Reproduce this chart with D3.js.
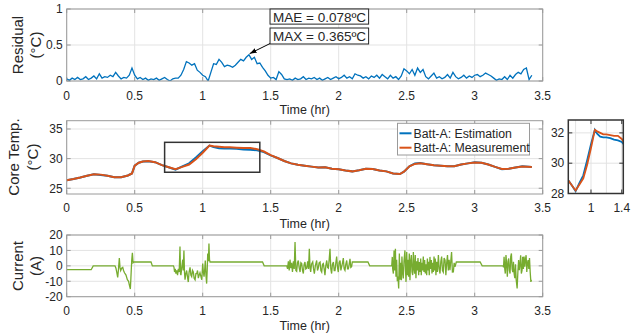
<!DOCTYPE html>
<html>
<head>
<meta charset="utf-8">
<script src="https://cdn.jsdelivr.net/npm/d3@7"></script>
<style>
  body { margin: 0; background: #fff; }
  text { font-family: "Liberation Sans", Arial, sans-serif; fill: #262626; }
</style>
</head>
<body>
<svg id="fig" width="631" height="333"></svg>
<script>
// ---- data ----
const resStep = 0.02; // residual sampled every 0.02 hr from t = 0
const residual = [
  0.03, 0.01, 0.04, 0.02, 0.05, 0.02, 0.03, 0.06, 0.02, 0.04, 0.07,
  0.03, 0.10, 0.04, 0.06, 0.05, 0.08, 0.06, 0.12, 0.07, 0.03,
  0.05, 0.04, 0.08, 0.18, 0.08, 0.03, 0.05, 0.02, 0.04, 0.01,
  0.03, 0.02, 0.04, 0.01, 0.03, 0.05, 0.02, 0.00, 0.03, 0.04,
  0.04, 0.08, 0.16, 0.27, 0.25, 0.22, 0.24, 0.15, 0.12, 0.08,
  0.06, 0.00, 0.12, 0.24, 0.23, 0.30, 0.26, 0.20, 0.22, 0.21,
  0.19, 0.22, 0.26, 0.30, 0.28, 0.33, 0.365, 0.30, 0.33, 0.24,
  0.25, 0.19, 0.14, 0.08, 0.04, 0.05, 0.02, 0.13, 0.09, 0.03,
  0.02, 0.03, 0.01, 0.04, 0.02, 0.03, 0.06, 0.02, 0.04, 0.03,
  0.05, 0.02, 0.04, 0.01, 0.03, 0.05, 0.02, 0.04, 0.06, 0.03,
  0.05, 0.08, 0.04, 0.06, 0.03, 0.10, 0.08, 0.07, 0.04, 0.06,
  0.03, 0.07, 0.05, 0.08, 0.04, 0.09, 0.06, 0.03, 0.08, 0.04,
  0.06, 0.02, 0.07, 0.17, 0.14, 0.10, 0.16, 0.08, 0.18, 0.12,
  0.16, 0.06, 0.03, 0.07, 0.11, 0.04, 0.06, 0.03, 0.05, 0.09,
  0.04, 0.12, 0.06, 0.03, 0.05, 0.08, 0.04, 0.07, 0.05, 0.08,
  0.09, 0.06, 0.08, 0.11, 0.09, 0.07, 0.04, 0.01, 0.03, 0.02,
  0.06, 0.02, 0.08, 0.04, 0.09, 0.12, 0.10, 0.16, 0.18, 0.02, 0.08
];

// [time (hr), measurement, estimation]
const tempPts = [
  [0, 26.35, 26.35], [0.05, 26.55, 26.55], [0.1, 26.8, 26.8], [0.15, 27.1, 27.1],
  [0.2, 27.35, 27.35], [0.25, 27.3, 27.25], [0.3, 27.1, 27.1], [0.35, 26.85, 26.85],
  [0.4, 26.85, 26.85], [0.45, 27.15, 27.15], [0.48, 27.5, 27.5], [0.5, 28.8, 28.8],
  [0.53, 29.3, 29.3], [0.56, 29.5, 29.5], [0.6, 29.6, 29.55], [0.65, 29.4, 29.4],
  [0.7, 28.9, 28.9], [0.75, 28.55, 28.55], [0.8, 28.2, 28.15], [0.85, 28.6, 28.7],
  [0.9, 29.0, 29.2], [0.95, 29.9, 30.2], [1.0, 31.0, 31.25], [1.05, 32.2, 32.2],
  [1.08, 32.1, 31.95], [1.12, 32.0, 31.75], [1.16, 31.9, 31.7], [1.2, 31.9, 31.7],
  [1.25, 31.85, 31.65], [1.3, 31.8, 31.55], [1.35, 31.8, 31.5], [1.4, 31.6, 31.4],
  [1.45, 31.2, 31.1], [1.5, 30.6, 30.55], [1.55, 30.1, 30.1], [1.6, 29.6, 29.6],
  [1.65, 29.2, 29.2], [1.7, 28.95, 28.95], [1.75, 28.8, 28.8], [1.8, 28.65, 28.65],
  [1.85, 28.5, 28.5], [1.9, 28.55, 28.55], [1.95, 28.3, 28.3], [2.0, 28.2, 28.2],
  [2.05, 28.0, 28.0], [2.1, 27.85, 27.85], [2.15, 28.05, 28.05], [2.2, 28.3, 28.3],
  [2.25, 28.25, 28.25], [2.3, 28.0, 28.0], [2.35, 27.85, 27.85], [2.4, 27.5, 27.5],
  [2.45, 27.4, 27.4], [2.48, 27.8, 27.8], [2.52, 28.7, 28.7], [2.56, 29.1, 29.2],
  [2.6, 29.2, 29.25], [2.65, 29.05, 29.05], [2.7, 28.9, 28.9], [2.75, 28.8, 28.8],
  [2.8, 28.7, 28.7], [2.85, 28.7, 28.7], [2.9, 29.0, 29.0], [2.95, 29.2, 29.2],
  [3.0, 29.35, 29.4], [3.05, 29.3, 29.3], [3.1, 29.0, 29.0], [3.15, 28.6, 28.6],
  [3.2, 28.25, 28.2], [3.25, 28.3, 28.3], [3.3, 28.5, 28.5], [3.35, 28.65, 28.7],
  [3.42, 28.6, 28.6]
];

// [time (hr), current (A)]
const currentPts = [
  [0, -2.5], [0.18, -2.5], [0.195, 0], [0.355, 0],
  [0.362, -1.5], [0.368, -4], [0.375, -7.5], [0.381, -2], [0.387, 5], [0.392, -1],
  [0.397, -3], [0.404, -1.5], [0.412, -1], [0.418, -3], [0.425, -4.5], [0.436, -6],
  [0.446, -9], [0.455, -10], [0.461, -12.5], [0.468, -15], [0.472, -8], [0.478, 3.5],
  [0.483, 8.5], [0.488, 2], [0.493, 2.5],
  [0.62, 2.5], [0.63, 0], [0.785, 0],
  [0.789, -1], [0.793, -4], [0.798, -2], [0.803, -5], [0.809, -3], [0.815, -6],
  [0.821, -2], [0.827, -4], [0.833, 12.5], [0.837, -5], [0.840, -6], [0.846, -1],
  [0.853, 4], [0.857, -3], [0.862, 10], [0.866, -4], [0.870, -9], [0.876, -5],
  [0.882, -3], [0.888, -7], [0.894, -10.5], [0.900, -4], [0.907, -1], [0.913, -6],
  [0.919, -7], [0.925, -3], [0.931, -4], [0.937, -8], [0.944, -9], [0.950, -5],
  [0.956, -5], [0.962, -3], [0.968, -8], [0.974, -6], [0.980, -4.5], [0.987, -7],
  [0.993, -9], [1.0, 1.5], [1.005, -4], [1.010, -7], [1.015, -2], [1.019, 3.5],
  [1.024, -6], [1.029, -11.5], [1.033, -3], [1.037, 8], [1.042, 3], [1.046, 14.5],
  [1.050, 4], [1.054, 2.5],
  [1.44, 2.5], [1.452, 0], [1.615, 0],
  [1.618, 0], [1.624, -2], [1.630, 3], [1.636, -3], [1.642, 4], [1.648, -1.5],
  [1.654, 2], [1.660, -4], [1.667, 3], [1.673, -2], [1.679, 15.5], [1.685, -3],
  [1.691, -3.5], [1.697, 2], [1.703, 3.5], [1.709, -1], [1.716, -4], [1.722, 2],
  [1.728, 1.5], [1.734, -3], [1.740, -5], [1.746, 1], [1.752, 2.5], [1.758, -2],
  [1.765, -1.5], [1.772, 3], [1.778, -2], [1.784, 11], [1.789, -1], [1.794, -4],
  [1.800, 1], [1.809, 2.5], [1.815, -2], [1.821, -5], [1.828, 0], [1.838, 3.5],
  [1.844, -3], [1.850, -1.5], [1.856, 2], [1.863, 2.5], [1.869, -3], [1.875, -4],
  [1.881, 1], [1.887, 1.5], [1.893, -2], [1.899, -6], [1.905, 0], [1.912, 3.5],
  [1.918, -1], [1.924, -1.5], [1.930, 4], [1.936, 11], [1.942, -2], [1.948, -5],
  [1.954, 1], [1.961, 2.5], [1.967, -3], [1.973, -3], [1.979, 2], [1.985, 6],
  [1.991, -1], [1.997, -4], [2.003, 2], [2.010, 3.5], [2.016, -3], [2.022, -0.5],
  [2.028, 2], [2.034, 5], [2.040, -2], [2.046, -3], [2.052, 1], [2.059, 3.5],
  [2.065, -2], [2.071, -2], [2.077, 1], [2.083, 4.5], [2.089, -1], [2.095, -0.5],
  [2.10, 2.5], [2.215, 2.5], [2.228, 0], [2.39, 0],
  [2.394, 5.8], [2.397, -2], [2.402, -5], [2.407, 10], [2.412, -3], [2.417, 11],
  [2.421, -7], [2.426, 4], [2.431, -10], [2.436, -7], [2.441, -14.7], [2.446, 8],
  [2.451, -9], [2.456, 2], [2.461, -9.3], [2.465, 6], [2.470, -4], [2.475, -8.2],
  [2.480, 3], [2.487, 10], [2.491, -2], [2.495, -10.4], [2.500, 9], [2.505, -6],
  [2.510, 4], [2.514, -7], [2.519, 8], [2.524, -9.3], [2.529, 3], [2.534, 7],
  [2.539, -4], [2.544, -6], [2.549, 9], [2.554, -2], [2.558, -5], [2.563, 7],
  [2.568, -8], [2.573, 3], [2.578, -3], [2.583, 5], [2.588, -6], [2.593, 2.5],
  [2.598, -4], [2.603, 4.8], [2.607, -6], [2.612, 2], [2.617, -3], [2.622, 6],
  [2.627, -4], [2.632, 3.7], [2.637, -5], [2.642, 1], [2.647, -6], [2.652, 4.8],
  [2.657, -3], [2.661, 2.6], [2.666, -6], [2.671, 5.8], [2.676, -2], [2.681, 3.7],
  [2.686, -5], [2.691, 2], [2.696, -4], [2.701, 6], [2.706, -3], [2.710, 4.8],
  [2.715, -6], [2.720, 2.6], [2.726, -4], [2.733, 7], [2.739, -2], [2.745, -5],
  [2.751, 3], [2.757, 6], [2.763, -3], [2.769, -4], [2.775, 5], [2.782, 3.7],
  [2.788, -6], [2.794, 2], [2.800, 7], [2.806, -3], [2.812, 4], [2.818, -2.8],
  [2.824, 3], [2.830, 9], [2.836, -4], [2.843, -3.9], [2.849, 2], [2.855, -0.6],
  [2.865, 2.5], [3.04, 2.5], [3.055, 0], [3.208, 0],
  [3.212, -1], [3.216, 5.8], [3.221, -2], [3.225, -5], [3.230, 7], [3.235, 1],
  [3.240, -7], [3.245, 3], [3.250, 4.8], [3.255, -3], [3.260, -5], [3.265, 6],
  [3.270, 8], [3.275, -2], [3.280, -4], [3.285, 2.6], [3.290, -5], [3.295, -8],
  [3.300, 1], [3.305, -9], [3.312, -14.7], [3.318, -3], [3.323, 3.7], [3.328, -2.8],
  [3.333, 1], [3.338, 6.9], [3.343, -5], [3.348, -3], [3.353, 5.8], [3.358, -2],
  [3.363, 6], [3.368, -0.6], [3.373, 4], [3.378, 6.9], [3.383, -3.9], [3.388, 2],
  [3.393, 3.7], [3.398, -2], [3.403, 5], [3.408, -4], [3.413, -10.4], [3.417, -9]
];

const timeTicks = [0, 0.5, 1, 1.5, 2, 2.5, 3, 3.5];
const resTicks = [0, 0.5, 1];
const tempTicks = [25, 30, 35];
const curTicks = [-20, -10, 0, 10, 20];
const insetXTicks = [1, 1.4];
const insetXGrid = [0.8, 1, 1.2, 1.4];
const insetYTicks = [28, 30, 32];
const zoomBox = { t0: 0.72, t1: 1.42, v0: 27.7, v1: 32.75 };
const seriesNames = ["Batt-A: Estimation", "Batt-A: Measurement"];
const colors = { est: "#0072BD", meas: "#D95319", cur: "#77AC30" };
const stats = ["MAE = 0.078ºC", "MAX = 0.365ºC"];
const peak = { t: 1.34, v: 0.365 };

// ---- layout ----
const svg = d3.select("#fig");
const left = 66.7, right = 542.7;
const x = d3.scaleLinear().domain([0, 3.5]).range([left, right]);

svg.append("defs").append("marker")
  .attr("id", "ah").attr("viewBox", "0 0 10 10")
  .attr("refX", 10).attr("refY", 5)
  .attr("markerWidth", 7).attr("markerHeight", 7)
  .attr("orient", "auto")
  .append("path").attr("d", "M0,1.5L10,5L0,8.5z").attr("fill", "#000");

let clipN = 0;
function drawAxes(xs, ys, xt, yt, opts) {
  const g = svg.append("g");
  const [x0, x1] = xs.range();
  const [y0, y1] = ys.range(); // y0 bottom, y1 top
  const grid = g.append("g").attr("stroke", "#e3e3e3").attr("stroke-width", 1);
  grid.selectAll(".gx").data(opts.xGrid || xt).join("line")
    .attr("x1", d => xs(d)).attr("x2", d => xs(d)).attr("y1", y0).attr("y2", y1);
  grid.selectAll(".gy").data(yt).join("line")
    .attr("y1", d => ys(d)).attr("y2", d => ys(d)).attr("x1", x0).attr("x2", x1);
  // ticks (inside, on all four sides)
  const tk = g.append("g").attr("stroke", opts.frame).attr("stroke-width", 1);
  xt.forEach(d => {
    tk.append("line").attr("x1", xs(d)).attr("x2", xs(d)).attr("y1", y0).attr("y2", y0 - 4);
    tk.append("line").attr("x1", xs(d)).attr("x2", xs(d)).attr("y1", y1).attr("y2", y1 + 4);
  });
  yt.forEach(d => {
    tk.append("line").attr("y1", ys(d)).attr("y2", ys(d)).attr("x1", x0).attr("x2", x0 + 4);
    tk.append("line").attr("y1", ys(d)).attr("y2", ys(d)).attr("x1", x1).attr("x2", x1 - 4);
  });
  g.selectAll(".xl").data(xt).join("text")
    .attr("x", d => xs(d)).attr("y", y0 + opts.xLabDy)
    .attr("text-anchor", "middle").attr("font-size", 12)
    .text(d => d);
  g.selectAll(".yl").data(yt).join("text")
    .attr("x", x0 - 4).attr("y", d => ys(d) + 4.3)
    .attr("text-anchor", "end").attr("font-size", 12)
    .text(d => d);
  const id = "clip" + (clipN++);
  svg.append("clipPath").attr("id", id).append("rect")
    .attr("x", x0).attr("y", y1).attr("width", x1 - x0).attr("height", y0 - y1);
  return { g, id, frame: () => svg.append("rect")
    .attr("x", x0).attr("y", y1).attr("width", x1 - x0).attr("height", y0 - y1)
    .attr("fill", "none").attr("stroke", opts.frame).attr("stroke-width", opts.frameW || 1) };
}

function yLabel(lines, xs, cy) {
  lines.forEach((s, i) => {
    svg.append("text")
      .attr("transform", `translate(${xs[i]},${cy}) rotate(-90)`)
      .attr("text-anchor", "middle").attr("font-size", 15)
      .text(s);
  });
}

function xLabel(y) {
  svg.append("text").attr("x", (left + right) / 2).attr("y", y)
    .attr("text-anchor", "middle").attr("font-size", 12.5).text("Time (hr)");
}

// ---- panel 1: residual ----
const yRes = d3.scaleLinear().domain([0, 1]).range([81, 9]);
const p1 = drawAxes(x, yRes, timeTicks, resTicks, { frame: "#9a9a9a", xLabDy: 19 });
svg.append("path")
  .datum(residual)
  .attr("clip-path", `url(#${p1.id})`)
  .attr("fill", "none").attr("stroke", colors.est).attr("stroke-width", 1.3)
  .attr("d", d3.line().x((d, i) => x(i * resStep)).y(d => yRes(d)));
p1.frame();
yLabel(["Residual", "(°C)"], [23, 41], 45);
xLabel(114);

// annotations
const boxT0 = 1.495, boxT1 = 2.22;
const boxes = [[1.0, 0.79], [0.736, 0.514]];
boxes.forEach((b, i) => {
  svg.append("rect")
    .attr("x", x(boxT0)).attr("y", yRes(b[0]))
    .attr("width", x(boxT1) - x(boxT0)).attr("height", yRes(b[1]) - yRes(b[0]))
    .attr("fill", "#fff").attr("stroke", "#262626").attr("stroke-width", 1);
  svg.append("text")
    .attr("x", x(boxT0) + 3).attr("y", (yRes(b[0]) + yRes(b[1])) / 2 + 5)
    .attr("font-size", 13.5).attr("fill", "#000").text(stats[i]);
});
svg.append("line")
  .attr("x1", x(boxT0)).attr("y1", yRes(0.52))
  .attr("x2", x(peak.t + 0.005)).attr("y2", yRes(peak.v + 0.015))
  .attr("stroke", "#000").attr("stroke-width", 1)
  .attr("marker-end", "url(#ah)");

// ---- panel 2: core temperature ----
const yTemp = d3.scaleLinear().domain([24.03, 36.4]).range([194, 120.7]);
const p2 = drawAxes(x, yTemp, timeTicks, tempTicks, { frame: "#9a9a9a", xLabDy: 18 });
const tempLine = (k, xs, ys) => d3.line().x(d => xs(d[0])).y(d => ys(d[k]));
svg.append("path").datum(tempPts).attr("clip-path", `url(#${p2.id})`)
  .attr("fill", "none").attr("stroke", colors.est).attr("stroke-width", 2)
  .attr("d", tempLine(2, x, yTemp));
svg.append("path").datum(tempPts).attr("clip-path", `url(#${p2.id})`)
  .attr("fill", "none").attr("stroke", colors.meas).attr("stroke-width", 2)
  .attr("d", tempLine(1, x, yTemp));
p2.frame();
svg.append("rect")
  .attr("x", x(zoomBox.t0)).attr("y", yTemp(zoomBox.v1))
  .attr("width", x(zoomBox.t1) - x(zoomBox.t0))
  .attr("height", yTemp(zoomBox.v0) - yTemp(zoomBox.v1))
  .attr("fill", "none").attr("stroke", "#333").attr("stroke-width", 1.5);
yLabel(["Core Temp.", "(°C)"], [19, 38], 157);
xLabel(228);

// legend
const lg = svg.append("g").attr("transform", "translate(397.5,123.3)");
lg.append("rect").attr("width", 132).attr("height", 31.7)
  .attr("fill", "#fff").attr("stroke", "#9a9a9a").attr("stroke-width", 1);
seriesNames.forEach((s, i) => {
  const yy = 10 + i * 14.4;
  lg.append("line").attr("x1", 2).attr("x2", 14).attr("y1", yy).attr("y2", yy)
    .attr("stroke", i === 0 ? colors.est : colors.meas).attr("stroke-width", 2);
  lg.append("text").attr("x", 16).attr("y", yy + 4.3).attr("font-size", 12.3)
    .attr("fill", "#000").text(s);
});

// inset
const xIn = d3.scaleLinear().domain([0.705, 1.42]).range([568.3, 623.3]);
const yIn = d3.scaleLinear().domain([28, 32.85]).range([193.5, 120]);
const p4 = drawAxes(xIn, yIn, insetXTicks, insetYTicks,
  { frame: "#333", frameW: 1.5, xLabDy: 18.5, xGrid: insetXGrid });
svg.append("path").datum(tempPts).attr("clip-path", `url(#${p4.id})`)
  .attr("fill", "none").attr("stroke", colors.est).attr("stroke-width", 1.8)
  .attr("d", tempLine(2, xIn, yIn));
svg.append("path").datum(tempPts).attr("clip-path", `url(#${p4.id})`)
  .attr("fill", "none").attr("stroke", colors.meas).attr("stroke-width", 1.8)
  .attr("d", tempLine(1, xIn, yIn));
p4.frame();

// ---- panel 3: current ----
const yCur = d3.scaleLinear().domain([-20, 20]).range([296.7, 235]);
const p3 = drawAxes(x, yCur, timeTicks, curTicks, { frame: "#9a9a9a", xLabDy: 18.5 });
svg.append("path").datum(currentPts).attr("clip-path", `url(#${p3.id})`)
  .attr("fill", "none").attr("stroke", colors.cur).attr("stroke-width", 1.3)
  .attr("d", d3.line().x(d => x(d[0])).y(d => yCur(d[1])));
p3.frame();
yLabel(["Current", "(A)"], [23, 41], 266);
xLabel(330);
</script>
</body>
</html>
